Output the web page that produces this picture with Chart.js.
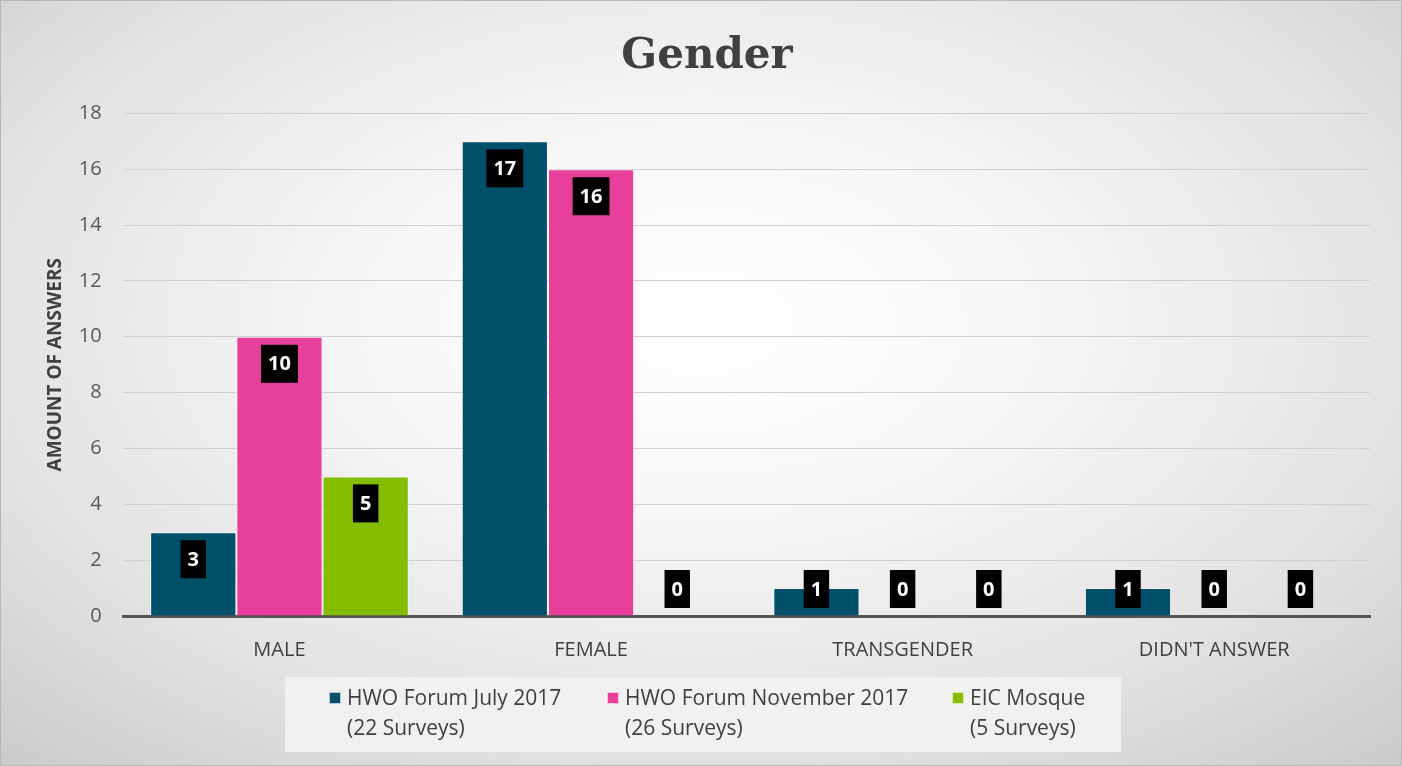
<!DOCTYPE html>
<html>
<head>
<meta charset="utf-8">
<script src="https://cdn.jsdelivr.net/npm/chart.js@4"></script>
<style>
  html, body { margin: 0; padding: 0; }
  body {
    width: 1402px; height: 766px; overflow: hidden;
    background: radial-gradient(ellipse 75% 80% at 50% 42%, #ffffff 0%, #f7f7f7 30%, #e2e2e2 70%, #c9c9c9 100%);
  }
  .frame { position: absolute; left: 0; top: 0; width: 1400px; height: 764px; border: 1px solid #b8b8b8; }
  canvas { position: absolute; left: 0; top: 0; }
</style>
</head>
<body>
<div class="frame"></div>
<canvas id="genderChart" width="1402" height="766"></canvas>
<script>
// data
const categories = ["MALE", "FEMALE", "TRANSGENDER", "DIDN'T ANSWER"];
const july2017 = [3, 17, 1, 1];
const november2017 = [10, 16, 0, 0];
const eicMosque = [5, 0, 0, 0];
const seriesNames = [
  ["HWO Forum July 2017", "(22 Surveys)"],
  ["HWO Forum November 2017", "(26 Surveys)"],
  ["EIC Mosque", "(5 Surveys)"]
];
const seriesColors = ["#00506b", "#e8409a", "#84bc00"];
const yMax = 18;
const yStep = 2;

const FONT = "'Open Sans', sans-serif";

// black boxes with white numbers at the top inside of each bar
const valueBoxes = {
  id: "valueBoxes",
  afterDatasetsDraw(chart) {
    const ctx = chart.ctx;
    const base = chart.scales.y.getPixelForValue(0);
    ctx.save();
    ctx.font = "bold 20px " + FONT;
    ctx.textAlign = "center";
    ctx.textBaseline = "middle";
    chart.data.datasets.forEach((ds, i) => {
      chart.getDatasetMeta(i).data.forEach((bar, j) => {
        const txt = String(ds.data[j]);
        const cy = Math.min(bar.y + 27, base - 27);
        const w = ctx.measureText(txt).width + 14;
        ctx.fillStyle = "#000";
        ctx.fillRect(bar.x - w / 2, cy - 19, w, 38);
        ctx.fillStyle = "#fff";
        ctx.fillText(txt, bar.x, cy + 1);
      });
    });
    ctx.restore();
  }
};

// two-line legend in a pale box under the axis
const boxLegend = {
  id: "boxLegend",
  afterDraw(chart) {
    const ctx = chart.ctx;
    ctx.save();
    ctx.fillStyle = "rgba(242,242,242,0.9)";
    ctx.fillRect(285, 677, 836, 75);
    const xs = [329, 607, 952];
    ctx.font = "21px " + FONT;
    ctx.textBaseline = "middle";
    chart.data.datasets.forEach((ds, i) => {
      const x = xs[i];
      ctx.fillStyle = ds.backgroundColor;
      ctx.fillRect(x, 692, 12, 12);
      ctx.strokeStyle = "rgba(255,255,255,0.7)";
      ctx.lineWidth = 1;
      ctx.strokeRect(x + 0.5, 692.5, 11, 11);
      ctx.fillStyle = "#404040";
      ctx.textAlign = "left";
      ctx.fillText(seriesNames[i][0], x + 18, 699);
      ctx.fillText(seriesNames[i][1], x + 18, 729);
    });
    ctx.restore();
  }
};

const datasets = [july2017, november2017, eicMosque].map((d, i) => ({
  label: seriesNames[i].join(" "),
  data: d,
  backgroundColor: seriesColors[i],
  borderColor: "rgba(255,255,255,0.45)",
  borderWidth: 1,
  categoryPercentage: 0.83,
  barPercentage: 1.0
}));

new Chart(document.getElementById("genderChart"), {
  type: "bar",
  data: { labels: categories, datasets: datasets },
  plugins: [valueBoxes, boxLegend],
  options: {
    responsive: false,
    animation: false,
    layout: { padding: { left: 44, right: 32, top: 18, bottom: 90 } },
    plugins: {
      legend: { display: false },
      tooltip: { enabled: false },
      title: {
        display: true,
        text: "Gender",
        color: "#404040",
        font: { family: "'DejaVu Serif', serif", size: 42, weight: "bold" },
        padding: { top: 14, bottom: 31 }
      }
    },
    scales: {
      x: {
        grid: { display: false },
        border: { display: true, color: "#555555", width: 3 },
        ticks: { color: "#404040", font: { family: FONT, size: 20 }, padding: 14 }
      },
      y: {
        min: 0,
        max: yMax,
        ticks: { stepSize: yStep, color: "#595959", font: { family: FONT, size: 20 }, padding: 22 },
        grid: { color: "#d0d0d0", lineWidth: 1, drawTicks: false },
        border: { display: false },
        title: {
          display: true,
          text: "AMOUNT OF ANSWERS",
          color: "#404040",
          font: { family: FONT, size: 19, weight: "bold" },
          padding: { top: 0, bottom: -10 }
        }
      }
    }
  }
});
</script>
</body>
</html>
